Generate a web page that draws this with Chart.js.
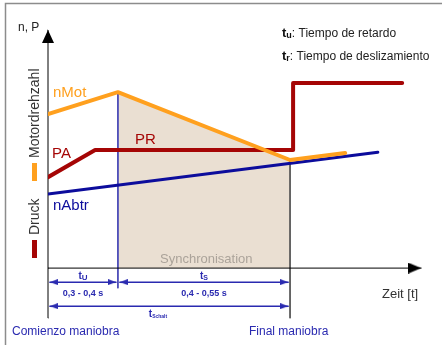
<!DOCTYPE html>
<html>
<head>
<meta charset="utf-8">
<script src="https://cdn.jsdelivr.net/npm/chart.js@4.4.1/dist/chart.umd.min.js"></script>
<style>
html, body { margin: 0; padding: 0; background: #fff; }
#grafico { display: block; }
</style>
</head>
<body>
<canvas id="grafico" width="442" height="345"></canvas>
<script>
// eje x: tiempo (0-100), eje y: n / P (0-100), sin escala numerica
var t_retardo = 18.4;   // fin de tu, comienzo deslizamiento
var t_final = 63.7;     // fin de tr, final maniobra

var nmot_t = [0, 18.4, 63.7, 78.2];
var nmot_v = [64.7, 73.9, 45.4, 48.3];

var presion_t = [0, 12.4, 64.5, 64.5, 93.2];
var presion_v = [38.2, 49.6, 49.6, 77.7, 77.7];

var nabtr_t = [0, 86.8];
var nabtr_v = [31.1, 48.7];

var nombres = ["nMot", "PA", "PR", "nAbtr"];
var rangos = ["0,3 - 0,4 s", "0,4 - 0,55 s"];

var naranja = "#ffa01e";
var rojo = "#a50505";
var azul = "#0c0c9c";
var azul_txt = "#2a2ab0";
var fuente = "'Liberation Sans', Arial, sans-serif";

function puntos(xs, ys){
    var r = [];
    for(var i = 0; i < xs.length; i++) r.push({x: xs[i], y: ys[i]});
    return r;
}

// punta de flecha con la punta en el centro del canvas (apunta hacia arriba)
function flecha(ancho, largo, color){
    var c = document.createElement('canvas');
    c.width = ancho;
    c.height = largo * 2;
    var g = c.getContext('2d');
    g.fillStyle = color;
    g.beginPath();
    g.moveTo(ancho / 2, largo);
    g.lineTo(ancho, largo * 2);
    g.lineTo(0, largo * 2);
    g.closePath();
    g.fill();
    return c;
}

var punta_eje_y = flecha(12, 13, "#000");
var punta_eje_x = flecha(11, 13, "#000");
var punta_cota = flecha(6, 8, azul_txt);

// tramo sincronizacion = nMot entre tu y el final
var sinc = puntos(nmot_t.slice(1, 3), nmot_v.slice(1, 3));

var hueco = 0.5;
var fila1 = -5.9, fila2 = -16, fondo = -21;

function cota(x0, x1, y){
    return {
        data: [{x: x0, y: y}, {x: x1, y: y}],
        borderColor: azul_txt,
        borderWidth: 1.5,
        pointRadius: 4,
        pointStyle: punta_cota,
        pointRotation: [-90, 90],
        clip: false,
        order: 4
    };
}

var textos = {
    id: 'textos',
    beforeDraw: function(chart){
        var ctx = chart.ctx;
        ctx.save();
        ctx.fillStyle = "#fff";
        ctx.fillRect(0, 0, chart.width, chart.height);
        ctx.strokeStyle = "#8c8c8c";
        ctx.lineWidth = 1.5;
        ctx.beginPath();
        ctx.moveTo(5.5, chart.height);
        ctx.lineTo(5.5, 3.5);
        ctx.lineTo(chart.width, 3.5);
        ctx.stroke();
        ctx.restore();
    },
    afterDraw: function(chart){
        var ctx = chart.ctx;
        var sx = chart.scales.x;
        ctx.save();
        ctx.textBaseline = "alphabetic";

        ctx.fillStyle = "#222";
        ctx.font = "12px " + fuente;
        ctx.fillText("n, P", 18, 31);

        ctx.font = "15px " + fuente;
        ctx.fillStyle = naranja;
        ctx.fillText(nombres[0], 53, 97);
        ctx.fillStyle = rojo;
        ctx.fillText(nombres[1], 52, 158);
        ctx.fillText(nombres[2], 135, 144);
        ctx.fillStyle = azul;
        ctx.fillText(nombres[3], 53, 210);

        ctx.fillStyle = "#aba39a";
        ctx.font = "13px " + fuente;
        ctx.fillText("Synchronisation", 160, 263);

        ctx.fillStyle = "#333";
        ctx.font = "13px " + fuente;
        ctx.fillText("Zeit [t]", 382, 298);

        // leyenda de tiempos
        function definicion(sub, texto, x, y){
            ctx.fillStyle = "#111";
            ctx.font = "bold 13px " + fuente;
            ctx.fillText("t", x, y);
            x += ctx.measureText("t").width;
            ctx.font = "bold 9px " + fuente;
            ctx.fillText(sub, x, y + 1);
            x += ctx.measureText(sub).width;
            ctx.font = "12px " + fuente;
            ctx.fillStyle = "#222";
            ctx.fillText(texto, x, y);
        }
        definicion("u", ": Tiempo de retardo", 282, 37);
        definicion("r", ": Tiempo de deslizamiento", 282, 60);

        // rotulo vertical
        ctx.fillStyle = "#333";
        ctx.font = "14px " + fuente;
        ctx.save();
        ctx.translate(39, 235);
        ctx.rotate(-Math.PI / 2);
        ctx.fillText("Druck", 0, 0);
        ctx.restore();
        ctx.save();
        ctx.translate(39, 158);
        ctx.rotate(-Math.PI / 2);
        ctx.fillText("Motordrehzahl", 0, 0);
        ctx.restore();
        ctx.fillStyle = naranja;
        ctx.fillRect(32, 163, 5, 18);
        ctx.fillStyle = rojo;
        ctx.fillRect(32, 240, 5, 18);

        // cotas
        ctx.fillStyle = azul_txt;
        ctx.textAlign = "center";
        function t_sub(sub, cx, y, tam){
            ctx.font = "bold 10px " + fuente;
            var w1 = ctx.measureText("t").width;
            ctx.font = "bold " + tam + "px " + fuente;
            var w2 = ctx.measureText(sub).width;
            var x = cx - (w1 + w2) / 2;
            ctx.textAlign = "left";
            ctx.font = "bold 10px " + fuente;
            ctx.fillText("t", x, y);
            ctx.font = "bold " + tam + "px " + fuente;
            ctx.fillText(sub, x + w1, y + 1);
            ctx.textAlign = "center";
        }
        var cA = sx.getPixelForValue(t_retardo / 2);
        var cB = sx.getPixelForValue((t_retardo + t_final) / 2);
        t_sub("U", cA, 279, 8);
        t_sub("S", cB, 279, 7);
        t_sub("Schalt", 158, 317, 5);
        ctx.font = "bold 9px " + fuente;
        ctx.fillText(rangos[0], cA, 296);
        ctx.fillText(rangos[1], cB, 296);

        ctx.textAlign = "left";
        ctx.font = "12px " + fuente;
        ctx.fillText("Comienzo maniobra", 12, 335);
        ctx.fillText("Final maniobra", 249, 335);
        ctx.restore();
    }
};

var ctx = document.getElementById('grafico').getContext('2d');
window.grafico = new Chart(ctx, {
    type: 'line',
    data: {
        datasets: [{
            // zona de sincronizacion
            data: sinc,
            borderWidth: 0,
            backgroundColor: "#eadfd2",
            fill: 'origin',
            pointRadius: 0,
            order: 10
        }, {
            data: [{x: t_retardo, y: nmot_v[1]}, {x: t_retardo, y: -8.4}],
            borderColor: "#4545b5",
            borderWidth: 1,
            pointRadius: 0,
            order: 6
        }, {
            data: [{x: t_final, y: nmot_v[2]}, {x: t_final, y: fondo}],
            borderColor: "#555",
            borderWidth: 1,
            pointRadius: 0,
            order: 6
        }, {
            label: nombres[3],
            data: puntos(nabtr_t, nabtr_v),
            borderColor: azul,
            borderWidth: 3,
            pointRadius: 0,
            order: 3
        }, {
            label: nombres[1] + "/" + nombres[2],
            data: puntos(presion_t, presion_v),
            borderColor: rojo,
            borderWidth: 4,
            pointRadius: 0,
            order: 2
        }, {
            label: nombres[0],
            data: puntos(nmot_t, nmot_v),
            borderColor: naranja,
            borderWidth: 4,
            pointRadius: 0,
            order: 1
        }, {
            // eje y
            data: [{x: 0, y: fondo}, {x: 0, y: 100}],
            borderColor: "#000",
            borderWidth: 1,
            pointRadius: [0, 6],
            pointStyle: punta_eje_y,
            pointRotation: [0, 0],
            clip: false,
            order: 5
        }, {
            // eje x
            data: [{x: 0, y: 0}, {x: 98.2, y: 0}],
            borderColor: "#000",
            borderWidth: 1,
            pointRadius: [0, 6],
            pointStyle: punta_eje_x,
            pointRotation: [0, 90],
            clip: false,
            order: 5
        },
        cota(hueco, t_retardo - hueco, fila1),
        cota(t_retardo + hueco, t_final - hueco, fila1),
        cota(hueco, t_final - hueco, fila2)
        ]
    },
    options: {
        responsive: false,
        animation: false,
        events: [],
        layout: { padding: { left: 48, right: 14, top: 30, bottom: 15 } },
        elements: {
            line: { tension: 0, borderCapStyle: 'round', borderJoinStyle: 'round', fill: false }
        },
        scales: {
            x: { type: 'linear', min: 0, max: 100, display: false },
            y: { type: 'linear', min: -26, max: 100, display: false }
        },
        plugins: {
            legend: { display: false },
            tooltip: { enabled: false }
        }
    },
    plugins: [textos]
});
</script>
</body>
</html>
